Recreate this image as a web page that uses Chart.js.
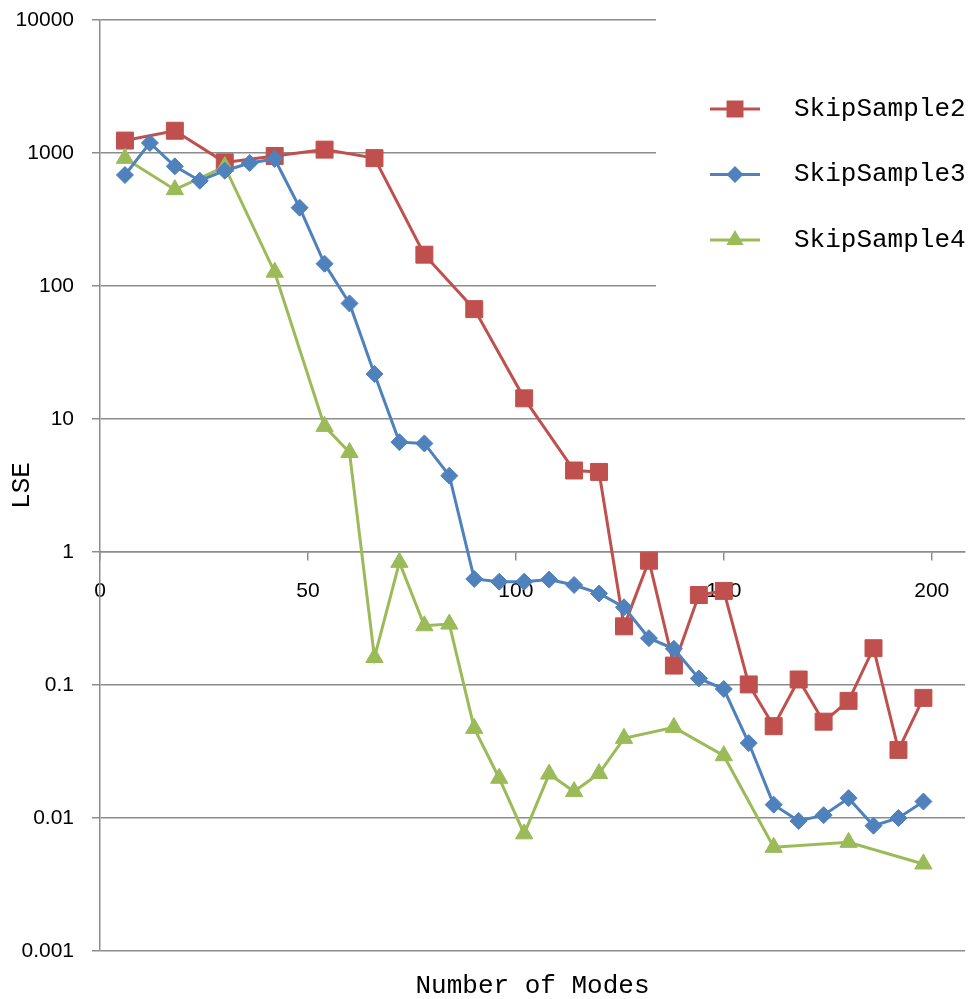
<!DOCTYPE html>
<html>
<head>
<meta charset="utf-8">
<script src="https://cdn.jsdelivr.net/npm/chart.js@4.4.1/dist/chart.umd.min.js"></script>
<style>
  html, body { margin: 0; padding: 0; background: #ffffff; }
</style>
</head>
<body>
<canvas id="grafico-lse" width="971" height="999"></canvas>
<script>
// Values
var seriesNames = ['SkipSample2', 'SkipSample3', 'SkipSample4'];

var modesSkip2 = [6, 18, 30, 42, 54, 66, 78, 90, 102, 114, 120, 126, 132, 138, 144, 150, 156, 162, 168, 174, 180, 186, 192, 198];
var lseSkip2 = [1240, 1470, 850, 950, 1060, 915, 172, 67, 14.3, 4.1, 4.0, 0.276, 0.86, 0.14, 0.475, 0.51, 0.101, 0.049, 0.11, 0.053, 0.076, 0.189, 0.0325, 0.08];

var modesSkip3 = [6, 12, 18, 24, 30, 36, 42, 48, 54, 60, 66, 72, 78, 84, 90, 96, 102, 108, 114, 120, 126, 132, 138, 144, 150, 156, 162, 168, 174, 180, 186, 192, 198];
var lseSkip3 = [683, 1190, 794, 619, 736, 841, 902, 388, 147, 74, 21.8, 6.7, 6.55, 3.75, 0.627, 0.598, 0.598, 0.62, 0.565, 0.488, 0.384, 0.225, 0.187, 0.112, 0.0933, 0.0366, 0.0126, 0.0095, 0.0105, 0.0141, 0.00875, 0.0100, 0.0133];

var modesSkip4 = [6, 18, 30, 42, 54, 60, 66, 72, 78, 84, 90, 96, 102, 108, 114, 120, 126, 138, 150, 162, 180, 198];
var lseSkip4 = [912, 530, 790, 127, 8.8, 5.6, 0.161, 0.836, 0.279, 0.287, 0.0472, 0.0199, 0.0076, 0.0214, 0.0158, 0.0216, 0.0397, 0.048, 0.0294, 0.00602, 0.00656, 0.00451];

var yTickValues = [0.001, 0.01, 0.1, 1, 10, 100, 1000, 10000];
var xTickValues = [0, 50, 100, 150, 200];

var gridColor = '#8c8c8c';
var tickFont = { family: "'Liberation Sans', Arial, sans-serif", size: 21 };
var monoFont = "'Liberation Mono', 'Courier New', monospace";

function toPoints(xs, ys) {
    return xs.map(function(x, i) { return { x: x, y: ys[i] }; });
}

function drawMarker(ctx, style, x, y, r) {
    ctx.beginPath();
    if (style === 'rect') {
        var s = r * Math.SQRT1_2;
        ctx.rect(x - s, y - s, 2 * s, 2 * s);
    } else if (style === 'rectRot') {
        ctx.moveTo(x, y - r);
        ctx.lineTo(x + r, y);
        ctx.lineTo(x, y + r);
        ctx.lineTo(x - r, y);
        ctx.closePath();
    } else {
        ctx.moveTo(x, y - r);
        ctx.lineTo(x + r * Math.sqrt(3) / 2, y + r / 2);
        ctx.lineTo(x - r * Math.sqrt(3) / 2, y + r / 2);
        ctx.closePath();
    }
    ctx.fill();
}

// Legend drawn in a white box over the top right of the plot
var legendBox = {
    id: 'legendBox',
    afterDraw: function(chart) {
        var ctx = chart.ctx;
        var area = chart.chartArea;
        var boxLeft = area.right - 309;
        ctx.save();
        ctx.fillStyle = '#ffffff';
        ctx.fillRect(boxLeft, area.top - 8, chart.width - boxLeft, 276);
        chart.data.datasets.forEach(function(ds, i) {
            var cy = area.top + 89 + i * 65.5;
            var lx = area.right - 255;
            ctx.strokeStyle = ds.borderColor;
            ctx.lineWidth = 3;
            ctx.beginPath();
            ctx.moveTo(lx, cy);
            ctx.lineTo(lx + 50, cy);
            ctx.stroke();
            ctx.fillStyle = ds.borderColor;
            drawMarker(ctx, ds.pointStyle, lx + 25, cy, ds.pointRadius);
            ctx.fillStyle = '#000000';
            ctx.font = '26px ' + monoFont;
            ctx.textAlign = 'left';
            ctx.textBaseline = 'middle';
            ctx.fillText(ds.label, area.right - 171, cy);
        });
        ctx.restore();
    }
};

document.addEventListener('DOMContentLoaded', function() {
    var ctx = document.getElementById('grafico-lse').getContext('2d');
    var lseChart = new Chart(ctx, {
        type: 'line',
        data: {
            datasets: [{
                label: seriesNames[0],
                data: toPoints(modesSkip2, lseSkip2),
                borderColor: '#C0504D',
                backgroundColor: '#C0504D',
                pointStyle: 'rect',
                pointRadius: 12,
                order: 2
            }, {
                label: seriesNames[1],
                data: toPoints(modesSkip3, lseSkip3),
                borderColor: '#4F81BD',
                backgroundColor: '#4F81BD',
                pointStyle: 'rectRot',
                pointRadius: 8.5,
                order: 0
            }, {
                label: seriesNames[2],
                data: toPoints(modesSkip4, lseSkip4),
                borderColor: '#9BBB59',
                backgroundColor: '#9BBB59',
                pointStyle: 'triangle',
                pointRadius: 10,
                order: 1
            }]
        },
        options: {
            responsive: false,
            animation: false,
            events: [],
            elements: {
                line: { borderWidth: 3, tension: 0 },
                point: { borderWidth: 1 }
            },
            layout: { autoPadding: false, padding: { top: 20, right: 6, left: 0, bottom: 0 } },
            scales: {
                x: {
                    type: 'linear',
                    position: { y: 1 },
                    min: 0,
                    max: 208,
                    afterBuildTicks: function(scale) {
                        scale.ticks = xTickValues.map(function(v) { return { value: v }; });
                    },
                    ticks: { font: tickFont, color: '#000000', padding: 19, maxRotation: 0 },
                    grid: { drawOnChartArea: false, drawTicks: true, tickLength: 8, color: gridColor, lineWidth: 1.5 },
                    border: { display: true, color: gridColor, width: 1.5 }
                },
                y: {
                    type: 'logarithmic',
                    position: 'left',
                    min: 0.001,
                    max: 10000,
                    afterBuildTicks: function(scale) {
                        scale.ticks = yTickValues.map(function(v) { return { value: v }; });
                    },
                    afterFit: function(scale) {
                        scale.width = 100;
                        scale.paddingTop = 0;
                        scale.paddingBottom = 0;
                    },
                    ticks: {
                        font: tickFont,
                        color: '#000000',
                        padding: 18,
                        callback: function(value) { return String(value); }
                    },
                    grid: { color: gridColor, lineWidth: 1.5, tickLength: 8 },
                    border: { display: true, color: gridColor, width: 1.5 },
                    title: {
                        display: true,
                        text: 'LSE',
                        color: '#000000',
                        font: { family: monoFont, size: 26, lineHeight: 1 },
                        padding: { top: 9, bottom: 0 }
                    }
                }
            },
            plugins: {
                legend: { display: false },
                tooltip: { enabled: false },
                title: {
                    display: true,
                    position: 'bottom',
                    fullSize: false,
                    text: 'Number of Modes',
                    color: '#000000',
                    font: { family: monoFont, size: 26, weight: 'normal', lineHeight: 1 },
                    padding: { top: 22, bottom: 0 }
                }
            }
        },
        plugins: [legendBox]
    });
});
</script>
</body>
</html>
